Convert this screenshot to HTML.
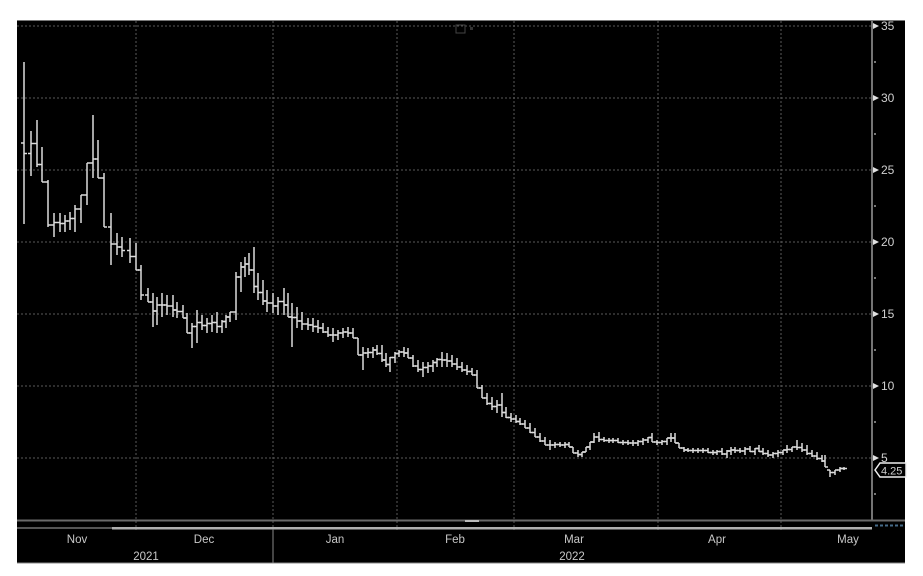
<!DOCTYPE html>
<html><head><meta charset="utf-8"><style>
html,body{margin:0;padding:0;background:#fff;}
svg{display:block;}
text{font-family:"Liberation Sans",sans-serif;}
</style></head><body>
<svg id="c" width="923" height="576" viewBox="0 0 923 576" xmlns="http://www.w3.org/2000/svg">
<rect x="0" y="0" width="923" height="576" fill="#fff"/>
<rect x="17" y="20" width="888" height="543" fill="#000"/>
<line x1="17" y1="20.5" x2="905" y2="20.5" stroke="#777" stroke-width="1"/>
<g id="grid" stroke="#5a5a5a" stroke-width="1" stroke-dasharray="2,2">
<line x1="17" y1="26" x2="872" y2="26"/>
<line x1="17" y1="98" x2="872" y2="98"/>
<line x1="17" y1="170" x2="872" y2="170"/>
<line x1="17" y1="242" x2="872" y2="242"/>
<line x1="17" y1="314" x2="872" y2="314"/>
<line x1="17" y1="386" x2="872" y2="386"/>
<line x1="17" y1="458" x2="872" y2="458"/>
<line x1="136" y1="21" x2="136" y2="530"/>
<line x1="273" y1="21" x2="273" y2="530"/>
<line x1="397" y1="21" x2="397" y2="530"/>
<line x1="514" y1="21" x2="514" y2="530"/>
<line x1="658" y1="21" x2="658" y2="530"/>
<line x1="781" y1="21" x2="781" y2="530"/>
</g>
<!-- window icon -->
<rect x="456" y="25" width="9" height="8" fill="none" stroke="#444" stroke-width="1"/>
<rect x="470" y="27" width="3" height="3" fill="#333"/>
<!-- right axis -->
<line x1="872" y1="21" x2="872" y2="521" stroke="#9a9a9a" stroke-width="1.5"/>
<g fill="#e0e0e0">
<polygon points="873,23 879,26 873,29"/>
<polygon points="873,95 879,98 873,101"/>
<polygon points="873,167 879,170 873,173"/>
<polygon points="873,239 879,242 873,245"/>
<polygon points="873,311 879,314 873,317"/>
<polygon points="873,383 879,386 873,389"/>
<polygon points="873,455 879,458 873,461"/>
</g>
<g fill="#777">
<rect x="874" y="61" width="2" height="2"/>
<rect x="874" y="133" width="2" height="2"/>
<rect x="874" y="205" width="2" height="2"/>
<rect x="874" y="277" width="2" height="2"/>
<rect x="874" y="349" width="2" height="2"/>
<rect x="874" y="421" width="2" height="2"/>
<rect x="874" y="493" width="2" height="2"/>
</g>
<g fill="#cfcfcf" font-size="12">
<text x="881" y="30">35</text>
<text x="881" y="102">30</text>
<text x="881" y="174">25</text>
<text x="881" y="246">20</text>
<text x="881" y="318">15</text>
<text x="881" y="390">10</text>
<text x="881" y="462">5</text>
</g>
<!-- last price box -->
<polygon points="875,470 880,463 906,463 906,477 880,477" fill="#000" stroke="#f0f0f0" stroke-width="1.5"/>
<text x="881" y="474.5" fill="#cfcfcf" font-size="11">4.25</text>
<!-- scroll band -->
<rect x="17" y="519.5" width="888" height="2" fill="#6a6a6a"/>
<rect x="17" y="527" width="95" height="2" fill="#555"/>
<rect x="112" y="527" width="760" height="2.5" fill="#b0b0b0"/>
<rect x="465" y="520" width="14" height="2" fill="#bbb"/>
<line x1="875" y1="525.5" x2="905" y2="525.5" stroke="#456a88" stroke-width="2" stroke-dasharray="3,2"/>
<line x1="273" y1="530" x2="273" y2="563" stroke="#888" stroke-width="1"/>
<g fill="#c8c8c8" font-size="11.5" text-anchor="middle">
<text x="77" y="543">Nov</text>
<text x="204" y="543">Dec</text>
<text x="335" y="543">Jan</text>
<text x="455" y="543">Feb</text>
<text x="574" y="543">Mar</text>
<text x="717" y="543">Apr</text>
<text x="848" y="543">May</text>
<text x="146" y="560">2021</text>
<text x="572" y="560">2022</text>
</g>
<line x1="17" y1="563" x2="905" y2="563" stroke="#888" stroke-width="1"/>
<g id="bars" stroke="#dcdcdc" stroke-width="1.5" fill="none"></g>
</svg>
<script>
var d=[[24,62,224],[31,131,176],[37,120,167],[42,147,182],[48,180,227],[54,213,237],[60,213,232],[65,215,232],[70,212,230],[75,205,232],[81,195,223],[87,163,205],[93,115,178],[98,140,178],[104,173,227],[111,213,265],[117,233,255],[122,237,257],[130,238,263],[136,243,270],[141,265,300],
[148,288,302],[153,293,327],[157,297,325],[162,293,317],[167,295,315],[173,295,317],[177,302,318],[183,305,318],[187,313,333],[192,323,348],[197,310,343],[202,315,330],[207,318,333],[212,315,332],[217,312,333],[222,320,333],[226,315,328],[230,312,322],[236,272,320],[241,262,292],[245,257,277],[249,253,275],[254,247,293],[258,273,300],[263,280,305],[267,290,312],[273,293,313],[278,297,315],[284,288,315],[288,293,317],[292,303,347],[297,307,328],[302,312,330],
[308,318,330],[313,318,332],[318,320,333],[323,323,333],[328,327,337],[333,328,342],[338,330,340],[343,328,338],[348,327,337],[353,328,338],[358,338,355],[363,347,370],[368,348,358],[373,347,358],[377,345,355],[382,345,362],[386,353,367],[390,357,372],[395,352,363],[399,350,357],[404,347,357],[408,348,358],[413,355,367],[418,360,372],[423,362,377],[428,362,373],[433,360,372],[437,358,367],[442,352,367],[447,353,367],[452,355,367],[457,358,370],[462,362,372],[467,365,375],[472,368,375],[477,370,388],[482,385,398],[487,393,405],[492,397,410],[497,400,413],[502,393,417],[506,407,418],[511,413,422],[516,415,423],
[520,418,425],[525,420,428],[530,423,433],[535,428,437],[540,433,442],[545,437,445],[550,440,450],[555,442,448],[560,442,447],[565,442,448],[569,442,447],[573,447,453],[578,450,457],[582,452,457],[586,447,452],[590,442,450],[594,433,443],[599,432,442],[604,437,442],[609,438,443],[613,438,443],[618,438,443],[623,440,445],[628,440,445],[633,440,446],[638,440,446],[643,438,445],[648,437,443],[652,433,442],[657,440,445],[662,440,445],[667,438,445],[671,433,442],[675,433,443],[679,443,448],[684,447,452],[688,448,452],[693,448,453],[698,448,453],[703,448,453],[708,448,453],[713,450,455],
[717,450,455],[722,448,455],[727,450,458],[731,447,455],[735,447,453],[740,448,453],[745,447,455],[750,446,452],[755,448,455],[759,445,452],[763,448,455],[768,450,457],[773,452,458],[778,450,457],[783,450,455],[787,445,453],[792,447,452],[797,440,450],[802,443,452],[807,445,455],[812,450,457],[817,452,460],[822,455,462],[825,455,467],[830,470,477],[835,470,475],[840,467,472],[844,467,470]];
var g=document.getElementById('bars'),s='',pc=null;
function cl(v,a,b){return Math.max(a,Math.min(b,v));}
for(var i=0;i<d.length;i++){
 var x=d[i][0],t=d[i][1],b=d[i][2];
 var o=pc===null?(t+b)/2:cl(pc,t,b);
 var c=i<d.length-1?cl((d[i+1][1]+d[i+1][2])/2,t,b):(t+b)/2;
 s+='<line x1="'+x+'" y1="'+t+'" x2="'+x+'" y2="'+b+'"/>';
 s+='<line x1="'+(x-3)+'" y1="'+o+'" x2="'+x+'" y2="'+o+'"/>';
 s+='<line x1="'+x+'" y1="'+c+'" x2="'+(x+3)+'" y2="'+c+'"/>';
 pc=c;
}
g.innerHTML=s;
</script>
</body></html>
